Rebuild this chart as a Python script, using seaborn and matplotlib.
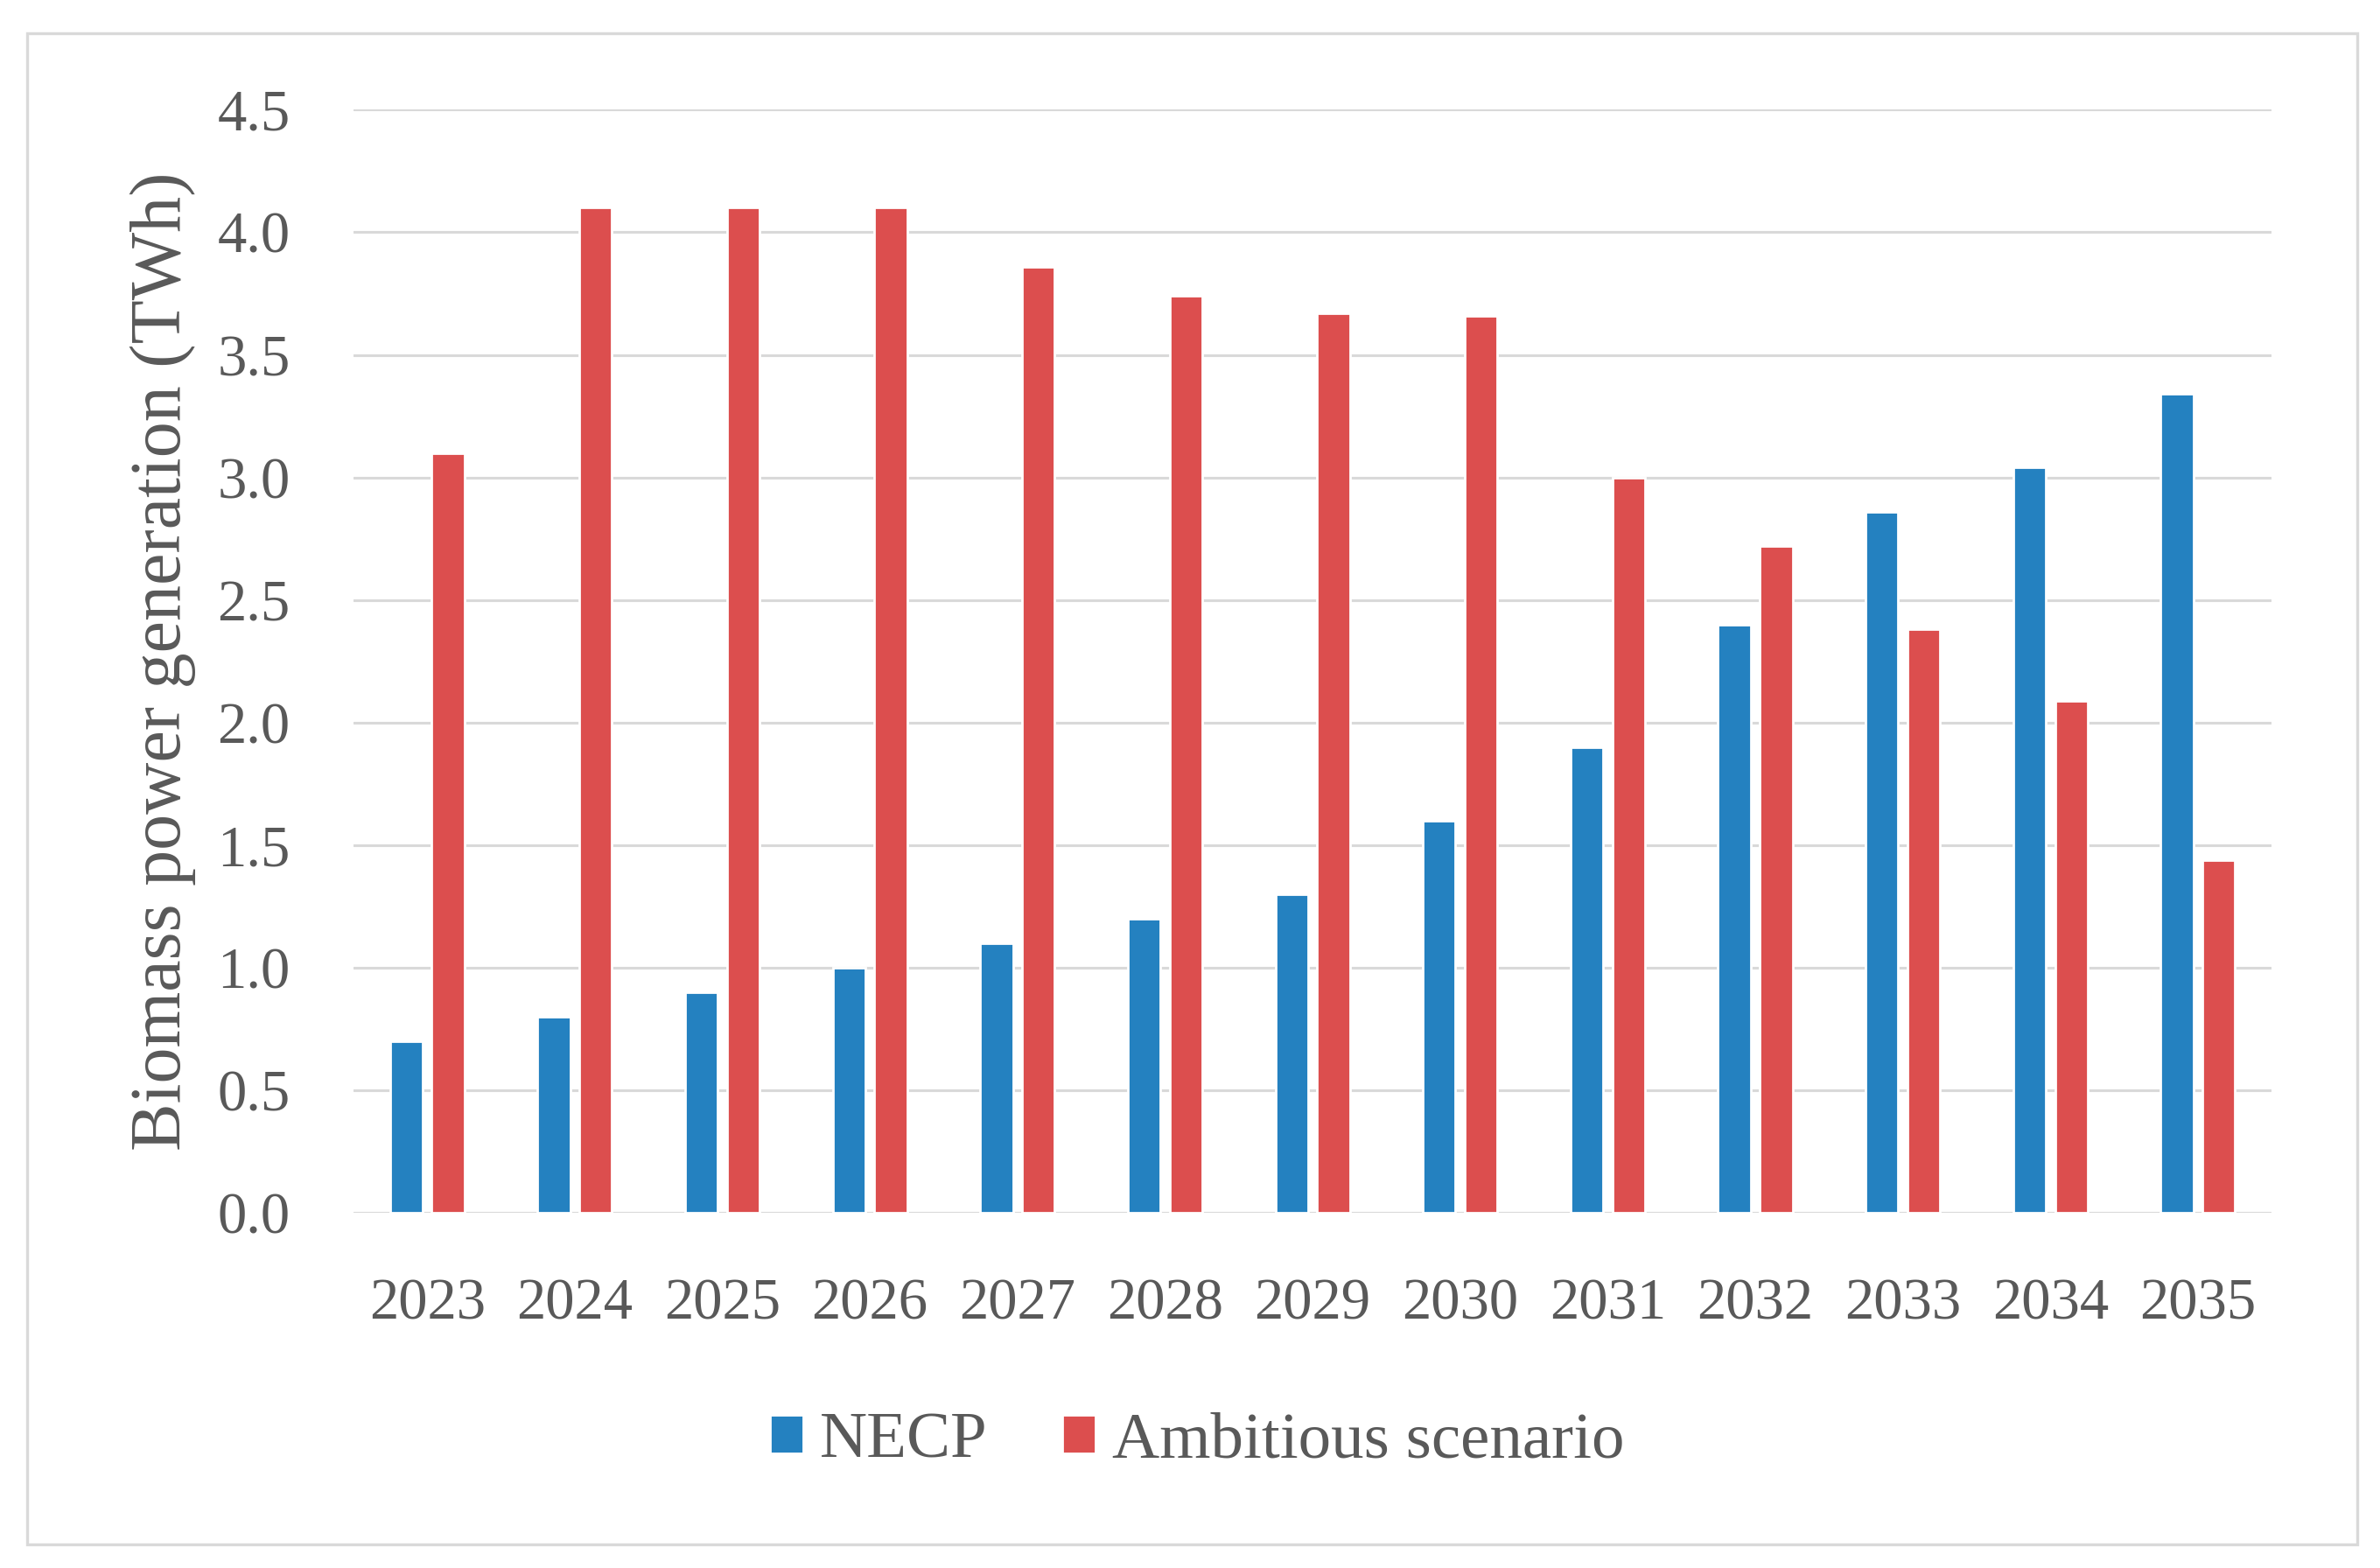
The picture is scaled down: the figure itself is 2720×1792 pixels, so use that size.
import matplotlib
matplotlib.use("Agg")
import matplotlib.pyplot as plt
from matplotlib.patches import Rectangle
import seaborn as sns
import pandas as pd

# values (TWh)
years = ["2023", "2024", "2025", "2026", "2027", "2028", "2029",
         "2030", "2031", "2032", "2033", "2034", "2035"]
necp = [0.70, 0.80, 0.90, 1.00, 1.10, 1.20, 1.30, 1.60, 1.90, 2.40, 2.86, 3.04, 3.34]
ambitious = [3.10, 4.10, 4.10, 4.10, 3.86, 3.74, 3.67, 3.66, 3.00, 2.72, 2.38, 2.09, 1.44]
series_names = ["NECP", "Ambitious scenario"]
y_ticks = [0.0, 0.5, 1.0, 1.5, 2.0, 2.5, 3.0, 3.5, 4.0, 4.5]

BLUE = "#2481C0"
RED = "#DC4E4E"
TEXT = "#595959"
GRID = "#D9D9D9"

df = pd.DataFrame({
    "year": years * 2,
    "value": necp + ambitious,
    "scenario": [series_names[0]] * len(years) + [series_names[1]] * len(years),
})

sns.set_theme(style="white")
plt.rcParams["font.family"] = ["Liberation Serif", "DejaVu Serif"]

fig = plt.figure(figsize=(13.6, 8.96), dpi=200)
ax = fig.add_axes([0.1485, 0.2266, 0.806, 0.7034])

sns.barplot(data=df, x="year", y="value", hue="scenario", palette=[BLUE, RED],
            saturation=1, width=0.567, gap=0.22, ax=ax)

ax.set_ylim(0, 4.5)
ax.set_xlim(-0.5, len(years) - 0.5)
ax.set_yticks(y_ticks)
ax.set_yticklabels([f"{t:.1f}" for t in y_ticks])
ax.yaxis.grid(True, color=GRID, linewidth=1.1)
ax.xaxis.grid(False)
ax.set_axisbelow(True)
for s in ax.spines.values():
    s.set_visible(False)

ax.tick_params(axis="y", length=0, pad=26, labelsize=24, labelcolor=TEXT)
ax.tick_params(axis="x", length=0, pad=27, labelsize=24, labelcolor=TEXT)
ax.set_xlabel("")
ax.set_ylabel("Biomass power generation (TWh)", fontsize=29.5, color=TEXT)
ax.yaxis.set_label_coords(-0.082, 0.5)

sns.move_legend(ax, loc="center", bbox_to_anchor=(0.503, 0.0804),
                bbox_transform=fig.transFigure, ncol=2, frameon=False, title=None,
                fontsize=27, handlelength=0.51, handleheight=0.54,
                handletextpad=0.25, columnspacing=1.14, labelcolor=TEXT)

# light outer frame around the whole chart
fig.patches.append(Rectangle((0.0114, 0.0151), 0.979, 0.9637, transform=fig.transFigure,
                             fill=False, edgecolor=GRID, linewidth=1.2))

fig.savefig("out.png", dpi=200, facecolor="white")
